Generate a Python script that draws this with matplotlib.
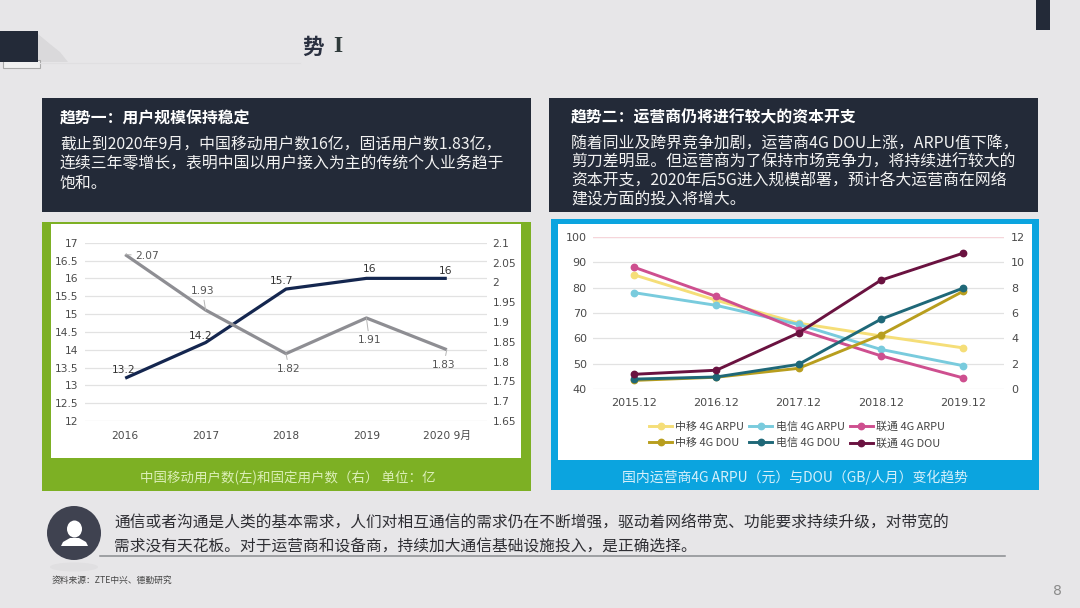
import matplotlib
matplotlib.use("Agg")
import matplotlib.pyplot as plt
from matplotlib.patches import Rectangle, Circle, Ellipse, Polygon

CJK = ['Noto Sans CJK SC', 'DejaVu Sans']
LAT = ['DejaVu Sans', 'Noto Sans CJK SC']
plt.rcParams['font.family'] = CJK

W, H = 1080, 608

# ---- left chart data ----
user_years = ['2016', '2017', '2018', '2019', '2020 9月']
mobile_users = [13.2, 14.2, 15.7, 16, 16]
fixed_users = [2.07, 1.93, 1.82, 1.91, 1.83]
left_ticks = [12, 12.5, 13, 13.5, 14, 14.5, 15, 15.5, 16, 16.5, 17]
left_tick_labels = ['12', '12.5', '13', '13.5', '14', '14.5', '15', '15.5', '16', '16.5', '17']
right_ticks = [1.65, 1.7, 1.75, 1.8, 1.85, 1.9, 1.95, 2, 2.05, 2.1]
right_tick_labels = ['1.65', '1.7', '1.75', '1.8', '1.85', '1.9', '1.95', '2', '2.05', '2.1']
mobile_label_offsets = [(-2, 3), (-5, 2), (-4, 3), (3, 4), (-1, 2)]
fixed_label_offsets = [(22, -1), (-3, 19), (3, -15), (3, -22), (-3, -15)]

# ---- right chart data ----
arpu_years = ['2015.12', '2016.12', '2017.12', '2018.12', '2019.12']
cm_arpu = [85, 75, 66, 61, 56.3]
ct_arpu = [78, 73, 65.5, 55.7, 49.3]
cu_arpu = [88, 76.5, 63.5, 53.2, 44.5]
cm_dou = [0.7, 0.95, 1.65, 4.27, 7.7]
ct_dou = [0.8, 0.97, 1.96, 5.5, 7.95]
cu_dou = [1.18, 1.5, 4.43, 8.57, 10.7]

BG = '#E7E6E8'
DARK = '#232A38'
GREEN = '#7DB024'
BLUE = '#0BA4DF'
TICK = '#4A4A4A'

fig = plt.figure(figsize=(W / 100, H / 100), dpi=100, facecolor=BG)


def axes_px(x0, y0, x1, y1, **kw):
    return fig.add_axes([x0 / W, 1 - y1 / H, (x1 - x0) / W, (y1 - y0) / H], **kw)


bg = fig.add_axes([0, 0, 1, 1], zorder=0)
bg.set_xlim(0, W)
bg.set_ylim(H, 0)
bg.axis('off')


def rect(x0, y0, x1, y1, c, **kw):
    bg.add_patch(Rectangle((x0, y0), x1 - x0, y1 - y0, facecolor=c, edgecolor=kw.pop('ec', 'none'), **kw))


# ---- header decorations ----
rect(1036, 0, 1050, 30, DARK)
bg.add_patch(Polygon([(38, 34), (50, 44), (60, 52), (68, 62), (38, 62)], facecolor='#DAD9DB', edgecolor='none'))
rect(3, 60, 40, 68, '#F0F0F0', ec='#A9A9A9', lw=0.8)
rect(0, 31, 38, 62, DARK)
bg.text(302, 47, '势', fontsize=15.5, fontweight='bold', color='#2A3040', va='center', ha='left')
bg.text(333, 47, 'I', fontsize=17, fontweight='bold', color='#2F3A3A', va='center', ha='left',
        family=['Liberation Serif'])
bg.plot([40, 300], [62.5, 62.5], color='#E0DFE1', lw=0.8)

# ---- text panels ----
rect(42, 98, 531, 212, DARK)
rect(549, 98, 1038, 212, DARK)
bg.text(60, 118, '趋势一：用户规模保持稳定', color='white', fontsize=11.4, fontweight='bold', va='center')
left_lines = ['截止到2020年9月，中国移动用户数16亿，固话用户数1.83亿，',
              '连续三年零增长，表明中国以用户接入为主的传统个人业务趋于',
              '饱和。']
for y, s in zip([145, 164, 183], left_lines):
    bg.text(60, y, s, color='#F2F2F2', fontsize=11.4, va='center')
bg.text(571, 117, '趋势二：运营商仍将进行较大的资本开支', color='white', fontsize=11.4, fontweight='bold', va='center')
right_lines = ['随着同业及跨界竞争加剧，运营商4G DOU上涨，ARPU值下降，',
               '剪刀差明显。但运营商为了保持市场竞争力，将持续进行较大的',
               '资本开支，2020年后5G进入规模部署，预计各大运营商在网络',
               '建设方面的投入将增大。']
for y, s in zip([144, 162, 181, 200], right_lines):
    bg.text(571, y, s, color='#F2F2F2', fontsize=11.4, va='center')

# ---- chart frames ----
rect(42, 222, 531, 491, GREEN)
rect(51, 224, 521, 458, 'white')
rect(551, 219, 1039, 490, BLUE)
rect(558, 224, 1032, 460, 'white')
bg.text(288, 478, '中国移动用户数(左)和固定用户数（右） 单位：亿', color='#DCEFB8', fontsize=9.7,
        ha='center', va='center')
bg.text(795, 477, '国内运营商4G ARPU（元）与DOU（GB/人月）变化趋势', color='#D5F0FB', fontsize=10,
        ha='center', va='center')

# ---- bottom note ----
bg.add_patch(Ellipse((74, 567), 48, 9, facecolor='#E0DFE1', edgecolor='none'))
bg.add_patch(Circle((74, 533), 27, facecolor='#3F4250', edgecolor='none'))
bg.add_patch(Ellipse((74.5, 529), 15, 17, facecolor='white', edgecolor='none'))
bg.add_patch(Polygon([(61, 546), (63, 542), (70, 538), (79, 538), (86, 542), (88, 546)],
                     facecolor='white', edgecolor='none'))
bg.plot([100, 1005], [556, 556], color='#8A8C90', lw=1.1)
bg.text(114, 523, '通信或者沟通是人类的基本需求，人们对相互通信的需求仍在不断增强，驱动着网络带宽、功能要求持续升级，对带宽的',
        color='#2E2E33', fontsize=11.3, va='center')
bg.text(114, 547, '需求没有天花板。对于运营商和设备商，持续加大通信基础设施投入，是正确选择。',
        color='#2E2E33', fontsize=11.3, va='center')
bg.text(52, 580, '资料来源：ZTE中兴、德勤研究', color='#444444', fontsize=6.3, va='center')
bg.text(1057, 591, '8', color='#8A8A8A', fontsize=10, ha='center', va='center', family=LAT)


def style(ax, ax2, labels, lticks, lt_labels, rticks, rt_labels, size=8):
    ax.patch.set_alpha(0)
    ax2.patch.set_alpha(0)
    for a in (ax, ax2):
        for s in a.spines.values():
            s.set_visible(False)
        a.tick_params(length=0, colors=TICK, labelsize=size)
    ax.set_xticks(range(len(labels)))
    ax.set_xticklabels(labels, family=LAT, fontsize=size)
    ax.set_xlim(-0.5, len(labels) - 0.5)
    ax.set_yticks(lticks)
    ax.set_yticklabels(lt_labels, family=LAT, fontsize=size)
    ax2.set_yticks(rticks)
    ax2.set_yticklabels(rt_labels, family=LAT, fontsize=size)
    ax.grid(axis='y', color='#E2E2E2', lw=0.9)
    ax.set_axisbelow(True)
    ax2.grid(False)


# ---- left chart ----
ax1 = axes_px(85, 242.7, 487, 421, zorder=2)
ax1b = ax1.twinx()
ax1b.set_zorder(3)
ax1.set_ylim(12, 17)
ax1b.set_ylim(1.65, 2.1)
style(ax1, ax1b, user_years, left_ticks, left_tick_labels, right_ticks, right_tick_labels, size=7.7)
ax1.tick_params(axis='x', pad=7)
ax1.tick_params(axis='y', pad=5)
ax1b.tick_params(axis='y', pad=4)
xs = range(len(user_years))
ax1.plot(xs, mobile_users, color='#14264F', lw=2.3, solid_capstyle='butt')
ax1b.plot(xs, fixed_users, color='#8E8E93', lw=2.3, solid_capstyle='butt')
for x, v, off in zip(xs, mobile_users, mobile_label_offsets):
    ax1.annotate(f'{v:g}', (x, v), xytext=off, textcoords='offset pixels', ha='center', va='bottom',
                 fontsize=7.7, color='#333333', family=LAT)
for x, v, off in zip(xs, fixed_users, fixed_label_offsets):
    ax1b.annotate(f'{v:g}', (x, v), xytext=off, textcoords='offset pixels', ha='center', va='center',
                  fontsize=7.7, color='#555555', family=LAT,
                  arrowprops=dict(arrowstyle='-', color='#B5B5B5', lw=0.7, shrinkA=1, shrinkB=0))

# ---- right chart ----
ax2 = axes_px(593, 236.7, 1004, 389.3, zorder=2)
ax2b = ax2.twinx()
ax2b.set_zorder(3)
ax2.set_ylim(40, 100)
ax2b.set_ylim(0, 12)
style(ax2, ax2b, arpu_years, [40, 50, 60, 70, 80, 90, 100], ['40', '50', '60', '70', '80', '90', '100'],
      [0, 2, 4, 6, 8, 10, 12], ['0', '2', '4', '6', '8', '10', '12'])
ax2.tick_params(axis='x', pad=6.5)
ax2.tick_params(axis='y', pad=4.5)
ax2b.tick_params(axis='y', pad=5)
ax2.axhline(100, color='#F6D5DA', lw=0.9, zorder=1)
xr = range(len(arpu_years))
mk = dict(marker='o', markersize=4.6, lw=2.1)
l1, = ax2.plot(xr, cm_arpu, color='#F5DE78', label='中移 4G ARPU', **mk)
l2, = ax2.plot(xr, ct_arpu, color='#79CBDD', label='电信 4G ARPU', **mk)
l3, = ax2.plot(xr, cu_arpu, color='#CE4F8F', label='联通 4G ARPU', **mk)
l4, = ax2b.plot(xr, cm_dou, color='#B89E1E', label='中移 4G DOU', **mk)
l5, = ax2b.plot(xr, ct_dou, color='#1F6878', label='电信 4G DOU', **mk)
l6, = ax2b.plot(xr, cu_dou, color='#6A1240', label='联通 4G DOU', **mk)
leg = fig.legend(handles=[l1, l4, l2, l5, l3, l6], loc='center', bbox_to_anchor=(797 / W, 1 - 435 / H),
                 ncol=3, frameon=False, fontsize=7.9, handlelength=2.1, columnspacing=0.45,
                 handletextpad=0.3, labelspacing=0.55, labelcolor='#444444')
leg.set_zorder(5)

fig.savefig('out.png', dpi=100, facecolor=BG)
